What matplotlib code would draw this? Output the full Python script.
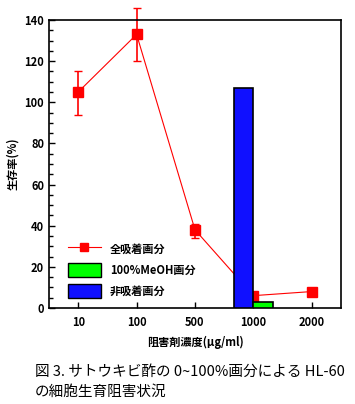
import matplotlib
matplotlib.use("Agg")
import matplotlib.pyplot as plt
from matplotlib.patches import Patch
from matplotlib.lines import Line2D
from matplotlib.ticker import MultipleLocator

plt.rcParams['font.family'] = ['Noto Sans CJK JP', 'DejaVu Sans']

# データ
conc = ["10", "100", "500", "1000", "2000"]
survival = [105, 133, 38, 6, 8]          # 全吸着画分
err_lo = [11, 13, 4, 1, 0]
err_hi = [10, 13, 3, 1, 0]
meoh_val = 3      # 100%MeOH画分 (1000)
nonads_val = 107  # 非吸着画分 (1000)

fig = plt.figure(figsize=(3.55, 4.04), dpi=100)
ax = fig.add_axes([49/355, 1 - 308/404, 292/355, 288/404])

x = list(range(len(conc)))
eb = ax.errorbar(x, survival, yerr=[err_lo, err_hi], color="#ff0000", lw=0.8,
                 marker="s", ms=7, capsize=3, elinewidth=1.2, zorder=2)
# 上側のエラーバーが枠外にはみ出すので clip しない
for art in eb.lines[1] + eb.lines[2]:
    art.set_clip_on(False)
eb.lines[0].set_clip_on(False)

ax.bar(3, nonads_val, width=-0.34, align="edge", color="#1010ff",
       edgecolor="black", lw=1.2, zorder=3)
ax.bar(3, meoh_val, width=0.33, align="edge", color="#00ff00",
       edgecolor="black", lw=1.2, zorder=3)

ax.set_xlim(-0.5, 4.5)
ax.set_ylim(0, 140)
ax.set_xticks(x)
ax.set_xticklabels(conc, fontweight="bold", fontsize=8)
ax.yaxis.set_major_locator(MultipleLocator(20))
ax.yaxis.set_minor_locator(MultipleLocator(5))
for lab in ax.get_yticklabels():
    lab.set_fontweight("bold")
    lab.set_fontsize(8)
ax.tick_params(direction="in", length=4, width=1)
ax.tick_params(which="minor", direction="in", length=3, width=1)
ax.tick_params(axis="x", pad=6)
for s in ax.spines.values():
    s.set_linewidth(1.2)

ax.set_ylabel("生存率(%)", fontweight="bold", fontsize=8)
ax.set_xlabel("阻害剤濃度(μg/ml)", fontweight="bold", fontsize=8, labelpad=5)

handles = [Line2D([0], [0], color="#ff0000", lw=0.8, marker="s", ms=6),
           Patch(facecolor="#00ff00", edgecolor="black"),
           Patch(facecolor="#1010ff", edgecolor="black")]
labels = ["全吸着画分", "100%MeOH画分", "非吸着画分"]
ax.legend(handles, labels, loc="lower left", bbox_to_anchor=(0.03, 0.0),
          frameon=False, prop={"weight": "bold", "size": 8},
          handlelength=3.0, handleheight=1.6, labelspacing=0.6)

fig.text(35/355, 1 - 372/404, "図 3. サトウキビ酢の 0~100%画分による HL-60",
         fontsize=10.5, va="center", ha="left")
fig.text(35/355, 1 - 392/404, "の細胞生育阻害状況",
         fontsize=10.5, va="center", ha="left")

fig.savefig("out.png", dpi=100)
